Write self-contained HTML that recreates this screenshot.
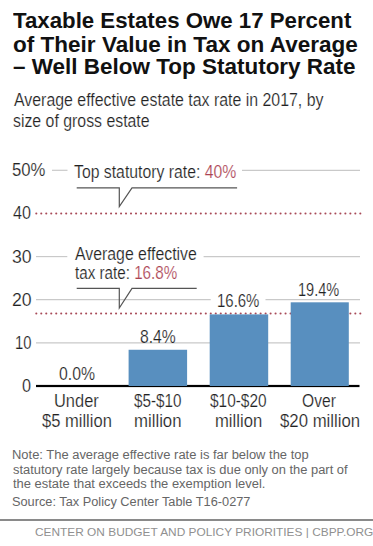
<!DOCTYPE html>
<html><head><meta charset="utf-8"><style>
html,body{margin:0;padding:0;background:#fff;width:373px;height:546px;overflow:hidden;position:relative}
.t{position:absolute;white-space:nowrap;line-height:1;font-family:"Liberation Sans",sans-serif;transform-origin:0 0}
</style></head><body>
<svg width="373" height="546" style="position:absolute;left:0;top:0">
<line x1="52" y1="170.30" x2="67.5" y2="170.30" stroke="#c9c9c9" stroke-width="1.2"/>
<line x1="242" y1="170.30" x2="360" y2="170.30" stroke="#c9c9c9" stroke-width="1.2"/>
<line x1="36" y1="256.58" x2="67.3" y2="256.58" stroke="#c9c9c9" stroke-width="1.2"/>
<line x1="203.6" y1="256.58" x2="360" y2="256.58" stroke="#c9c9c9" stroke-width="1.2"/>
<line x1="36" y1="299.72" x2="210.7" y2="299.72" stroke="#c9c9c9" stroke-width="1.2"/>
<line x1="265.5" y1="299.72" x2="360" y2="299.72" stroke="#c9c9c9" stroke-width="1.2"/>
<line x1="36" y1="342.86" x2="360" y2="342.86" stroke="#c9c9c9" stroke-width="1.2"/>
<rect x="36" y="384.90" width="323.5" height="2.2" fill="#000"/>
<circle cx="36.30" cy="213.44" r="1.05" fill="#a84a58"/>
<circle cx="41.28" cy="213.44" r="1.05" fill="#a84a58"/>
<circle cx="46.27" cy="213.44" r="1.05" fill="#a84a58"/>
<circle cx="51.25" cy="213.44" r="1.05" fill="#a84a58"/>
<circle cx="56.24" cy="213.44" r="1.05" fill="#a84a58"/>
<circle cx="61.22" cy="213.44" r="1.05" fill="#a84a58"/>
<circle cx="66.21" cy="213.44" r="1.05" fill="#a84a58"/>
<circle cx="71.19" cy="213.44" r="1.05" fill="#a84a58"/>
<circle cx="76.18" cy="213.44" r="1.05" fill="#a84a58"/>
<circle cx="81.16" cy="213.44" r="1.05" fill="#a84a58"/>
<circle cx="86.15" cy="213.44" r="1.05" fill="#a84a58"/>
<circle cx="91.13" cy="213.44" r="1.05" fill="#a84a58"/>
<circle cx="96.12" cy="213.44" r="1.05" fill="#a84a58"/>
<circle cx="101.11" cy="213.44" r="1.05" fill="#a84a58"/>
<circle cx="106.09" cy="213.44" r="1.05" fill="#a84a58"/>
<circle cx="111.08" cy="213.44" r="1.05" fill="#a84a58"/>
<circle cx="116.06" cy="213.44" r="1.05" fill="#a84a58"/>
<circle cx="121.05" cy="213.44" r="1.05" fill="#a84a58"/>
<circle cx="126.03" cy="213.44" r="1.05" fill="#a84a58"/>
<circle cx="131.01" cy="213.44" r="1.05" fill="#a84a58"/>
<circle cx="136.00" cy="213.44" r="1.05" fill="#a84a58"/>
<circle cx="140.99" cy="213.44" r="1.05" fill="#a84a58"/>
<circle cx="145.97" cy="213.44" r="1.05" fill="#a84a58"/>
<circle cx="150.95" cy="213.44" r="1.05" fill="#a84a58"/>
<circle cx="155.94" cy="213.44" r="1.05" fill="#a84a58"/>
<circle cx="160.93" cy="213.44" r="1.05" fill="#a84a58"/>
<circle cx="165.91" cy="213.44" r="1.05" fill="#a84a58"/>
<circle cx="170.89" cy="213.44" r="1.05" fill="#a84a58"/>
<circle cx="175.88" cy="213.44" r="1.05" fill="#a84a58"/>
<circle cx="180.87" cy="213.44" r="1.05" fill="#a84a58"/>
<circle cx="185.85" cy="213.44" r="1.05" fill="#a84a58"/>
<circle cx="190.83" cy="213.44" r="1.05" fill="#a84a58"/>
<circle cx="195.82" cy="213.44" r="1.05" fill="#a84a58"/>
<circle cx="200.81" cy="213.44" r="1.05" fill="#a84a58"/>
<circle cx="205.79" cy="213.44" r="1.05" fill="#a84a58"/>
<circle cx="210.78" cy="213.44" r="1.05" fill="#a84a58"/>
<circle cx="215.76" cy="213.44" r="1.05" fill="#a84a58"/>
<circle cx="220.75" cy="213.44" r="1.05" fill="#a84a58"/>
<circle cx="225.73" cy="213.44" r="1.05" fill="#a84a58"/>
<circle cx="230.72" cy="213.44" r="1.05" fill="#a84a58"/>
<circle cx="235.70" cy="213.44" r="1.05" fill="#a84a58"/>
<circle cx="240.69" cy="213.44" r="1.05" fill="#a84a58"/>
<circle cx="245.67" cy="213.44" r="1.05" fill="#a84a58"/>
<circle cx="250.66" cy="213.44" r="1.05" fill="#a84a58"/>
<circle cx="255.64" cy="213.44" r="1.05" fill="#a84a58"/>
<circle cx="260.62" cy="213.44" r="1.05" fill="#a84a58"/>
<circle cx="265.61" cy="213.44" r="1.05" fill="#a84a58"/>
<circle cx="270.60" cy="213.44" r="1.05" fill="#a84a58"/>
<circle cx="275.58" cy="213.44" r="1.05" fill="#a84a58"/>
<circle cx="280.56" cy="213.44" r="1.05" fill="#a84a58"/>
<circle cx="285.55" cy="213.44" r="1.05" fill="#a84a58"/>
<circle cx="290.54" cy="213.44" r="1.05" fill="#a84a58"/>
<circle cx="295.52" cy="213.44" r="1.05" fill="#a84a58"/>
<circle cx="300.51" cy="213.44" r="1.05" fill="#a84a58"/>
<circle cx="305.49" cy="213.44" r="1.05" fill="#a84a58"/>
<circle cx="310.48" cy="213.44" r="1.05" fill="#a84a58"/>
<circle cx="315.46" cy="213.44" r="1.05" fill="#a84a58"/>
<circle cx="320.45" cy="213.44" r="1.05" fill="#a84a58"/>
<circle cx="325.43" cy="213.44" r="1.05" fill="#a84a58"/>
<circle cx="330.42" cy="213.44" r="1.05" fill="#a84a58"/>
<circle cx="335.40" cy="213.44" r="1.05" fill="#a84a58"/>
<circle cx="340.39" cy="213.44" r="1.05" fill="#a84a58"/>
<circle cx="345.37" cy="213.44" r="1.05" fill="#a84a58"/>
<circle cx="350.36" cy="213.44" r="1.05" fill="#a84a58"/>
<circle cx="355.34" cy="213.44" r="1.05" fill="#a84a58"/>
<circle cx="360.33" cy="213.44" r="1.05" fill="#a84a58"/>
<circle cx="36.30" cy="313.52" r="1.05" fill="#a84a58"/>
<circle cx="41.28" cy="313.52" r="1.05" fill="#a84a58"/>
<circle cx="46.27" cy="313.52" r="1.05" fill="#a84a58"/>
<circle cx="51.25" cy="313.52" r="1.05" fill="#a84a58"/>
<circle cx="56.24" cy="313.52" r="1.05" fill="#a84a58"/>
<circle cx="61.22" cy="313.52" r="1.05" fill="#a84a58"/>
<circle cx="66.21" cy="313.52" r="1.05" fill="#a84a58"/>
<circle cx="71.19" cy="313.52" r="1.05" fill="#a84a58"/>
<circle cx="76.18" cy="313.52" r="1.05" fill="#a84a58"/>
<circle cx="81.16" cy="313.52" r="1.05" fill="#a84a58"/>
<circle cx="86.15" cy="313.52" r="1.05" fill="#a84a58"/>
<circle cx="91.13" cy="313.52" r="1.05" fill="#a84a58"/>
<circle cx="96.12" cy="313.52" r="1.05" fill="#a84a58"/>
<circle cx="101.11" cy="313.52" r="1.05" fill="#a84a58"/>
<circle cx="106.09" cy="313.52" r="1.05" fill="#a84a58"/>
<circle cx="111.08" cy="313.52" r="1.05" fill="#a84a58"/>
<circle cx="116.06" cy="313.52" r="1.05" fill="#a84a58"/>
<circle cx="121.05" cy="313.52" r="1.05" fill="#a84a58"/>
<circle cx="126.03" cy="313.52" r="1.05" fill="#a84a58"/>
<circle cx="131.01" cy="313.52" r="1.05" fill="#a84a58"/>
<circle cx="136.00" cy="313.52" r="1.05" fill="#a84a58"/>
<circle cx="140.99" cy="313.52" r="1.05" fill="#a84a58"/>
<circle cx="145.97" cy="313.52" r="1.05" fill="#a84a58"/>
<circle cx="150.95" cy="313.52" r="1.05" fill="#a84a58"/>
<circle cx="155.94" cy="313.52" r="1.05" fill="#a84a58"/>
<circle cx="160.93" cy="313.52" r="1.05" fill="#a84a58"/>
<circle cx="165.91" cy="313.52" r="1.05" fill="#a84a58"/>
<circle cx="170.89" cy="313.52" r="1.05" fill="#a84a58"/>
<circle cx="175.88" cy="313.52" r="1.05" fill="#a84a58"/>
<circle cx="180.87" cy="313.52" r="1.05" fill="#a84a58"/>
<circle cx="185.85" cy="313.52" r="1.05" fill="#a84a58"/>
<circle cx="190.83" cy="313.52" r="1.05" fill="#a84a58"/>
<circle cx="195.82" cy="313.52" r="1.05" fill="#a84a58"/>
<circle cx="200.81" cy="313.52" r="1.05" fill="#a84a58"/>
<circle cx="205.79" cy="313.52" r="1.05" fill="#a84a58"/>
<circle cx="210.78" cy="313.52" r="1.05" fill="#a84a58"/>
<circle cx="215.76" cy="313.52" r="1.05" fill="#a84a58"/>
<circle cx="220.75" cy="313.52" r="1.05" fill="#a84a58"/>
<circle cx="225.73" cy="313.52" r="1.05" fill="#a84a58"/>
<circle cx="230.72" cy="313.52" r="1.05" fill="#a84a58"/>
<circle cx="235.70" cy="313.52" r="1.05" fill="#a84a58"/>
<circle cx="240.69" cy="313.52" r="1.05" fill="#a84a58"/>
<circle cx="245.67" cy="313.52" r="1.05" fill="#a84a58"/>
<circle cx="250.66" cy="313.52" r="1.05" fill="#a84a58"/>
<circle cx="255.64" cy="313.52" r="1.05" fill="#a84a58"/>
<circle cx="260.62" cy="313.52" r="1.05" fill="#a84a58"/>
<circle cx="265.61" cy="313.52" r="1.05" fill="#a84a58"/>
<circle cx="270.60" cy="313.52" r="1.05" fill="#a84a58"/>
<circle cx="275.58" cy="313.52" r="1.05" fill="#a84a58"/>
<circle cx="280.56" cy="313.52" r="1.05" fill="#a84a58"/>
<circle cx="285.55" cy="313.52" r="1.05" fill="#a84a58"/>
<circle cx="290.54" cy="313.52" r="1.05" fill="#a84a58"/>
<circle cx="295.52" cy="313.52" r="1.05" fill="#a84a58"/>
<circle cx="300.51" cy="313.52" r="1.05" fill="#a84a58"/>
<circle cx="305.49" cy="313.52" r="1.05" fill="#a84a58"/>
<circle cx="310.48" cy="313.52" r="1.05" fill="#a84a58"/>
<circle cx="315.46" cy="313.52" r="1.05" fill="#a84a58"/>
<circle cx="320.45" cy="313.52" r="1.05" fill="#a84a58"/>
<circle cx="325.43" cy="313.52" r="1.05" fill="#a84a58"/>
<circle cx="330.42" cy="313.52" r="1.05" fill="#a84a58"/>
<circle cx="335.40" cy="313.52" r="1.05" fill="#a84a58"/>
<circle cx="340.39" cy="313.52" r="1.05" fill="#a84a58"/>
<circle cx="345.37" cy="313.52" r="1.05" fill="#a84a58"/>
<circle cx="350.36" cy="313.52" r="1.05" fill="#a84a58"/>
<circle cx="355.34" cy="313.52" r="1.05" fill="#a84a58"/>
<circle cx="360.33" cy="313.52" r="1.05" fill="#a84a58"/>
<rect x="128.6" y="349.76" width="58.50" height="36.24" fill="#588fbf"/>
<rect x="209.7" y="314.39" width="58.50" height="71.61" fill="#588fbf"/>
<rect x="290.7" y="302.31" width="58.10" height="83.69" fill="#588fbf"/>
<polyline points="76.7,187.8 119.3,187.8 119.3,206.5 132,187.8 237.1,187.8" fill="none" stroke="#555" stroke-width="1.2"/>
<polyline points="76.7,288.4 119.3,288.4 119.3,308 132,288.4 196.7,288.4" fill="none" stroke="#555" stroke-width="1.2"/>
</svg>
<div class="t" style="left:13.24px;top:11.00px;font-size:21.5px;font-weight:700;color:#111;letter-spacing:0px;transform:scaleX(1.0346)">Taxable Estates Owe 17 Percent</div>
<div class="t" style="left:12.71px;top:35.00px;font-size:21.5px;font-weight:700;color:#111;letter-spacing:0px;transform:scaleX(1.0482)">of Their Value in Tax on Average</div>
<div class="t" style="left:12.68px;top:57.00px;font-size:21.5px;font-weight:700;color:#111;letter-spacing:0px;transform:scaleX(1.0453)">– Well Below Top Statutory Rate</div>
<div class="t" style="left:13.60px;top:91.00px;font-size:18px;font-weight:400;color:#222;letter-spacing:0px;transform:scaleX(0.8827);-webkit-text-stroke:0.2px #fff">Average effective estate tax rate in 2017, by</div>
<div class="t" style="left:13.16px;top:112.00px;font-size:18px;font-weight:400;color:#222;letter-spacing:0px;transform:scaleX(0.8807);-webkit-text-stroke:0.2px #fff">size of gross estate</div>
<div class="t" style="left:11.78px;top:162.00px;font-size:17.5px;font-weight:400;color:#222;letter-spacing:0px;transform:scaleX(0.9541);-webkit-text-stroke:0.2px #fff">50%</div>
<div class="t" style="left:13.17px;top:205.00px;font-size:17.5px;font-weight:400;color:#222;letter-spacing:0px;transform:scaleX(0.9243);-webkit-text-stroke:0.2px #fff">40</div>
<div class="t" style="left:11.74px;top:249.00px;font-size:17.5px;font-weight:400;color:#222;letter-spacing:0px;transform:scaleX(1.0111);-webkit-text-stroke:0.2px #fff">30</div>
<div class="t" style="left:11.74px;top:292.00px;font-size:17.5px;font-weight:400;color:#222;letter-spacing:0px;transform:scaleX(1.0111);-webkit-text-stroke:0.2px #fff">20</div>
<div class="t" style="left:14.84px;top:335.00px;font-size:17.5px;font-weight:400;color:#222;letter-spacing:0px;transform:scaleX(0.8457);-webkit-text-stroke:0.2px #fff">10</div>
<div class="t" style="left:22.34px;top:378.00px;font-size:17.5px;font-weight:400;color:#222;letter-spacing:0px;transform:scaleX(0.9294);-webkit-text-stroke:0.2px #fff">0</div>
<div class="t" style="left:74.37px;top:164.00px;font-size:17.5px;font-weight:400;color:#222;letter-spacing:0px;transform:scaleX(0.9017);-webkit-text-stroke:0.2px #fff">Top statutory rate: <span style="color:#ab4252">40%</span></div>
<div class="t" style="left:74.50px;top:246.00px;font-size:17.5px;font-weight:400;color:#222;letter-spacing:0px;transform:scaleX(0.9052);-webkit-text-stroke:0.2px #fff">Average effective</div>
<div class="t" style="left:74.58px;top:265.00px;font-size:17.5px;font-weight:400;color:#222;letter-spacing:0px;transform:scaleX(0.8685);-webkit-text-stroke:0.2px #fff">tax rate: <span style="color:#ab4252">16.8%</span></div>
<div class="t" style="left:59.25px;top:366.00px;font-size:17.5px;font-weight:400;color:#222;letter-spacing:0px;transform:scaleX(0.9032);-webkit-text-stroke:0.2px #fff">0.0%</div>
<div class="t" style="left:139.83px;top:329.00px;font-size:17.5px;font-weight:400;color:#222;letter-spacing:0px;transform:scaleX(0.8961);-webkit-text-stroke:0.2px #fff">8.4%</div>
<div class="t" style="left:217.13px;top:293.00px;font-size:17.5px;font-weight:400;color:#222;letter-spacing:0px;transform:scaleX(0.8545);-webkit-text-stroke:0.2px #fff">16.6%</div>
<div class="t" style="left:298.26px;top:282.00px;font-size:17.5px;font-weight:400;color:#222;letter-spacing:0px;transform:scaleX(0.8314);-webkit-text-stroke:0.2px #fff">19.4%</div>
<div class="t" style="left:53.83px;top:393.00px;font-size:17.5px;font-weight:400;color:#222;letter-spacing:0px;transform:scaleX(0.9384);-webkit-text-stroke:0.2px #fff">Under</div>
<div class="t" style="left:42.26px;top:413.00px;font-size:17.5px;font-weight:400;color:#222;letter-spacing:0px;transform:scaleX(0.9448);-webkit-text-stroke:0.2px #fff">$5 million</div>
<div class="t" style="left:134.38px;top:393.00px;font-size:17.5px;font-weight:400;color:#222;letter-spacing:0px;transform:scaleX(0.8692);-webkit-text-stroke:0.2px #fff">$5-$10</div>
<div class="t" style="left:134.04px;top:413.00px;font-size:17.5px;font-weight:400;color:#222;letter-spacing:0px;transform:scaleX(0.9579);-webkit-text-stroke:0.2px #fff">million</div>
<div class="t" style="left:210.08px;top:393.00px;font-size:17.5px;font-weight:400;color:#222;letter-spacing:0px;transform:scaleX(0.8806);-webkit-text-stroke:0.2px #fff">$10-$20</div>
<div class="t" style="left:215.05px;top:413.00px;font-size:17.5px;font-weight:400;color:#222;letter-spacing:0px;transform:scaleX(0.9516);-webkit-text-stroke:0.2px #fff">million</div>
<div class="t" style="left:302.33px;top:393.00px;font-size:17.5px;font-weight:400;color:#222;letter-spacing:0px;transform:scaleX(0.8919);-webkit-text-stroke:0.2px #fff">Over</div>
<div class="t" style="left:280.26px;top:413.00px;font-size:17.5px;font-weight:400;color:#222;letter-spacing:0px;transform:scaleX(0.9581);-webkit-text-stroke:0.2px #fff">$20 million</div>
<div class="t" style="left:11.95px;top:449.00px;font-size:12.3px;font-weight:400;color:#666;letter-spacing:0px;transform:scaleX(1.0524)">Note: The average effective rate is far below the top</div>
<div class="t" style="left:12.54px;top:464.00px;font-size:12.3px;font-weight:400;color:#666;letter-spacing:0px;transform:scaleX(1.0480)">statutory rate largely because tax is due only on the part of</div>
<div class="t" style="left:13.00px;top:478.00px;font-size:12.3px;font-weight:400;color:#666;letter-spacing:0px;transform:scaleX(1.0517)">the estate that exceeds the exemption level.</div>
<div class="t" style="left:11.98px;top:496.00px;font-size:12.3px;font-weight:400;color:#666;letter-spacing:0px;transform:scaleX(1.0381)">Source: Tax Policy Center Table T16-0277</div>
<div class="t" style="left:34.66px;top:527.00px;font-size:11px;font-weight:400;color:#909090;letter-spacing:0px;transform:scaleX(1.0795)">CENTER ON BUDGET AND POLICY PRIORITIES | CBPP.ORG</div>
<div style="position:absolute;left:0;top:519px;width:373px;height:2px;background:#8a8a8a"></div>
</body></html>
